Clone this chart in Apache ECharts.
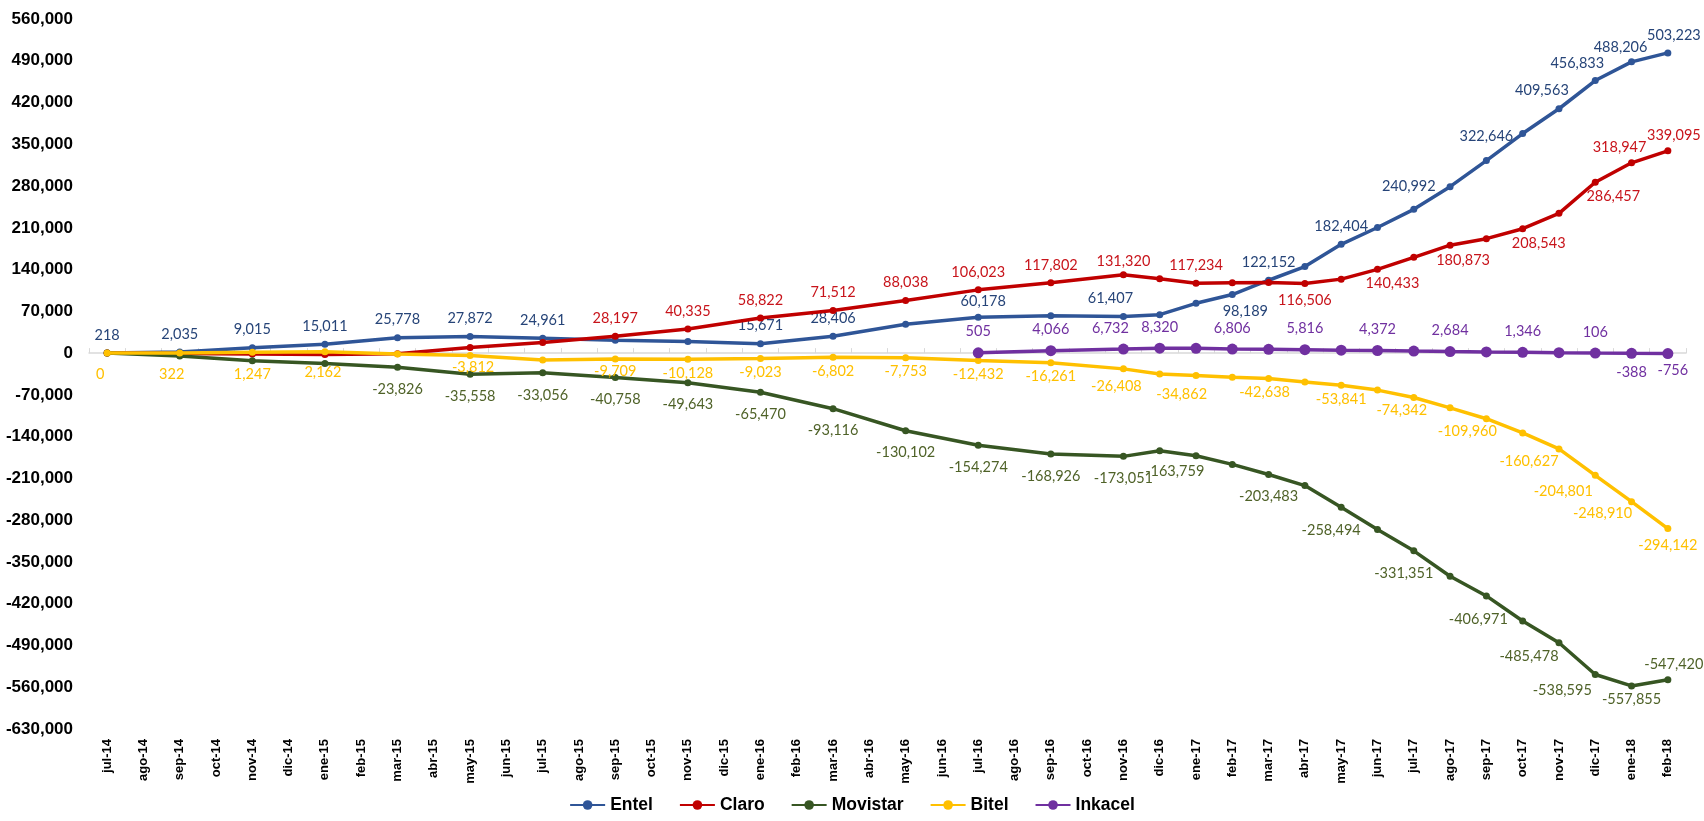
<!DOCTYPE html>
<html>
<head>
<meta charset="utf-8">
<script src="https://cdn.jsdelivr.net/npm/echarts@6/dist/echarts.min.js"></script>
<style>
html,body{margin:0;padding:0;background:#fff;}
#chart{width:1704px;height:821px;}
</style>
</head>
<body>
<div id="chart"></div>
<script>
// ---- DATA ----
const categories = ['jul-14','ago-14','sep-14','oct-14','nov-14','dic-14','ene-15','feb-15','mar-15','abr-15','may-15','jun-15','jul-15','ago-15','sep-15','oct-15','nov-15','dic-15','ene-16','feb-16','mar-16','abr-16','may-16','jun-16','jul-16','ago-16','sep-16','oct-16','nov-16','dic-16','ene-17','feb-17','mar-17','abr-17','may-17','jun-17','jul-17','ago-17','sep-17','oct-17','nov-17','dic-17','ene-18','feb-18'];

const entel = [218,null,2035,null,9015,null,15011,null,25778,null,27872,null,24961,null,21500,null,19500,null,15671,null,28406,null,48500,null,60178,null,62800,null,61407,64500,83500,98189,122152,145000,182404,210500,240992,279000,322646,368000,409563,456833,488206,503223];
const claro = [0,null,-500,null,-1500,null,-2500,null,-1000,null,9500,null,17900,null,28197,null,40335,null,58822,null,71512,null,88038,null,106023,null,117802,null,131320,124500,117234,118000,118500,116506,124000,140433,160500,180873,191800,208543,234300,286457,318947,339095];
const movistar = [0,null,-5000,null,-12900,null,-17300,null,-23826,null,-35558,null,-33056,null,-40758,null,-49643,null,-65470,null,-93116,null,-130102,null,-154274,null,-168926,null,-173051,-163759,-172000,-186500,-203483,-222000,-258494,-295800,-331351,-374000,-406971,-449000,-485478,-538595,-557855,-547420];
const bitel = [0,null,322,null,1247,null,2162,null,-1500,null,-3812,null,-11500,null,-9709,null,-10128,null,-9023,null,-6802,null,-7753,null,-12432,null,-16261,null,-26408,-34862,-37500,-40300,-42638,-48600,-53841,-62000,-74342,-91700,-109960,-133700,-160627,-204801,-248910,-294142];
const inkacel = [null,null,null,null,null,null,null,null,null,null,null,null,null,null,null,null,null,null,null,null,null,null,null,null,505,null,4066,null,6732,8320,8000,6806,6300,5816,5000,4372,3500,2684,2000,1346,700,106,-388,-756];

// indices whose value label is shown
const entelLabeled = [0,2,4,6,8,10,12,18,20,24,28,31,32,34,36,38,40,41,42,43];
const claroLabeled = [14,16,18,20,22,24,26,28,30,33,35,37,39,41,42,43];
const movistarLabeled = [8,10,12,14,16,18,20,22,24,26,28,29,32,34,36,38,40,41,42,43];
const bitelLabeled = [0,2,4,6,10,14,16,18,20,22,24,26,28,29,32,34,36,38,40,41,42,43];
const inkacelLabeled = [24,26,28,29,31,33,35,37,39,41,42,43];

const seriesNames = ['Entel','Claro','Movistar','Bitel','Inkacel'];

// ---- STYLE ----
const lineColors = ['#2F5597','#C00000','#375623','#FFC000','#7030A0'];
const labelColors = ['#264478','#C8141B','#4F6228','#FFC000','#7030A0'];
// per-point label placement: [position, distance, dx, dy]
const labelPlacement = [
  {def:['top',7,0,0], o:{28:['top',7,-13,0],31:['bottom',6,13,0],36:['top',12,-5,0],38:['top',13,0,0],40:['top',7,-17,0],41:['top',6,-18,0],42:['top',4,-11,0],43:['top',7,6,0],24:['top',5,5,0]}},
  {def:['top',7,0,0], o:{28:['top',2,0,0],33:['bottom',6,0,0],35:['bottom',3,15,0],37:['bottom',4,13,0],39:['bottom',4,16,0],41:['bottom',3,18,0],42:['top',4,-12,0],43:['top',4,6,0]}},
  {def:['bottom',11,0,0], o:{29:['bottom',10,15,0],34:['bottom',12,-10,0],36:['bottom',12,-10,0],38:['bottom',12,-8,0],40:['bottom',3,-30,0],41:['bottom',5,-33,0],42:['bottom',2,0,0],43:['top',4,6,0]}},
  {def:['bottom',3,0,0], o:{0:['bottom',10,-7,0],2:['bottom',10,-8,0],4:['bottom',11,0,0],6:['bottom',10,-2,0],10:['bottom',1,3,0],14:['bottom',1,0,0],28:['bottom',6,-7,0],29:['bottom',9,22,0],32:['bottom',3,-4,0],36:['bottom',2,-12,0],38:['bottom',2,-19,0],40:['bottom',1,-30,0],41:['bottom',5,-32,0],42:['bottom',1,-29,0],43:['bottom',6,0,0]}},
  {def:['top',8,0,0], o:{28:['top',8,-13,0],42:['bottom',6,0,0],43:['bottom',4,5,0]}}
];

const allData = [entel, claro, movistar, bitel, inkacel];
const allLabeled = [entelLabeled, claroLabeled, movistarLabeled, bitelLabeled, inkacelLabeled];

function fmt(v){ return v.toLocaleString('en-US'); }

const series = seriesNames.map((name, si) => {
  const pl = labelPlacement[si];
  const data = allData[si].map((v, i) => {
    if (v === null) return null;
    const show = allLabeled[si].includes(i);
    const p = pl.o[i] || pl.def;
    return {
      value: v,
      label: {
        show: show,
        position: p[0],
        distance: p[1],
        offset: [p[2], p[3]]
      }
    };
  });
  return {
    name: name,
    type: 'line',
    data: data,
    connectNulls: true,
    showAllSymbol: true,
    symbol: 'circle',
    symbolSize: si === 4 ? 11 : 7,
    lineStyle: { width: 3.5, color: lineColors[si] },
    itemStyle: { color: lineColors[si] },
    label: {
      color: labelColors[si],
      fontFamily: 'Lato, "Open Sans", sans-serif',
      fontSize: 14.5,
      formatter: (p) => fmt(p.value)
    },
    emphasis: { disabled: true },
    z: 2 + si
  };
});

const chart = echarts.init(document.getElementById('chart'), null, {renderer: 'canvas'});
chart.setOption({
  animation: false,
  backgroundColor: '#ffffff',
  grid: { left: 89, right: 18, top: 19, bottom: 92, containLabel: false },
  legend: {
    data: seriesNames,
    bottom: 2,
    left: 'center',
    itemWidth: 35,
    itemHeight: 12,
    itemGap: 26,
    textStyle: { fontFamily: '"Liberation Sans", Arial, sans-serif', fontWeight: 'bold', fontSize: 17.5, color: '#000' }
  },
  xAxis: [
    {
      type: 'category',
      data: categories,
      position: 'bottom',
      boundaryGap: true,
      axisLine: { show: false, onZero: false },
      axisTick: { show: false },
      axisLabel: {
        interval: 0,
        rotate: 90,
        margin: 10,
        fontFamily: '"Liberation Sans", Arial, sans-serif',
        fontWeight: 'bold',
        fontSize: 13,
        color: '#000'
      },
      splitLine: { show: false }
    },
    {
      type: 'category',
      data: categories,
      position: 'bottom',
      boundaryGap: true,
      axisLine: { show: true, onZero: true, lineStyle: { color: '#D9D9D9', width: 1.5 } },
      axisTick: { show: true, inside: true, length: 5, interval: 0, lineStyle: { color: '#D9D9D9', width: 1 } },
      axisLabel: { show: false },
      splitLine: { show: false }
    }
  ],
  yAxis: {
    type: 'value',
    min: -630000,
    max: 560000,
    interval: 70000,
    axisLine: { show: false },
    axisTick: { show: false },
    splitLine: { show: false },
    axisLabel: {
      margin: 16,
      fontFamily: '"Liberation Sans", Arial, sans-serif',
      fontWeight: 'bold',
      fontSize: 17,
      color: '#000',
      formatter: (v) => v.toLocaleString('en-US')
    }
  },
  series: series
});
</script>
</body>
</html>
